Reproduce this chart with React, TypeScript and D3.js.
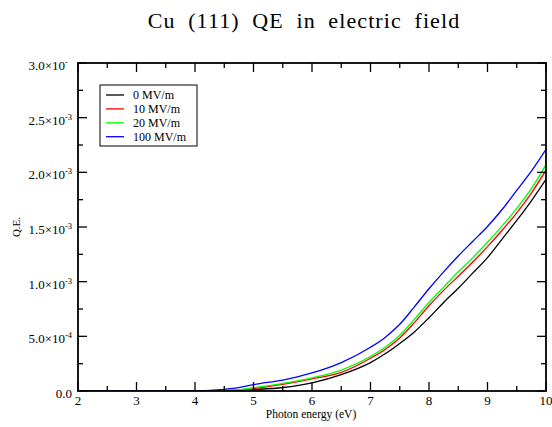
import React from "react";
import * as d3 from "d3";

// Photon energy grid (eV)
const energy = [2, 3, 4, 4.25, 4.5, 4.75, 5, 5.5, 6, 6.5, 7, 7.25, 7.5, 7.75, 8, 8.25, 8.5, 8.75, 9, 9.25, 9.5, 9.75, 10];

// Quantum efficiency in units of 1e-3, one array per applied field
const qe0 = [0, 0, 0, 0, 0, 0.004, 0.012, 0.032, 0.075, 0.15, 0.26, 0.34, 0.435, 0.54, 0.67, 0.81, 0.94, 1.08, 1.22, 1.39, 1.56, 1.74, 1.936];
const qe10 = [0, 0, 0, 0, 0.003, 0.01, 0.022, 0.06, 0.11, 0.17, 0.3, 0.38, 0.485, 0.625, 0.78, 0.92, 1.05, 1.18, 1.32, 1.47, 1.63, 1.81, 2.02];
const qe20 = [0, 0, 0, 0, 0.004, 0.012, 0.03, 0.07, 0.12, 0.19, 0.315, 0.4, 0.51, 0.655, 0.81, 0.95, 1.09, 1.22, 1.36, 1.51, 1.67, 1.85, 2.07];
const qe100 = [0, 0, 0, 0.005, 0.015, 0.03, 0.058, 0.1, 0.165, 0.26, 0.4, 0.49, 0.61, 0.77, 0.935, 1.09, 1.235, 1.37, 1.505, 1.66, 1.835, 2.01, 2.21];

const seriesNames = ["0 MV/m", "10 MV/m", "20 MV/m", "100 MV/m"];
const seriesColors = ["#000000", "#ff0000", "#00ff00", "#0000ff"];
const seriesValues = [qe0, qe10, qe20, qe100];

// Axis ticks
const xTicks = [2, 3, 4, 5, 6, 7, 8, 9, 10];
const xMinorTicks = [2.5, 3.5, 4.5, 5.5, 6.5, 7.5, 8.5, 9.5];
const yTicks = [0, 0.5, 1.0, 1.5, 2.0, 2.5, 3.0];
const yMinorTicks = [0.25, 0.75, 1.25, 1.75, 2.25, 2.75];
const yTickMantissa = ["0.0", "5.0×10", "1.0×10", "1.5×10", "2.0×10", "2.5×10", "3.0×10"];
const yTickExponent = ["", "-4", "-3", "-3", "-3", "-3", "-"];

const W = 552;
const H = 427;
const left = 78;
const right = 546;
const top = 63;
const bottom = 391;

const SERIF = "Liberation Serif";

export default function App() {
  const x = d3.scaleLinear().domain([2, 10]).range([left, right]);
  const y = d3.scaleLinear().domain([0, 3.0]).range([bottom, top]);

  const line = d3
    .line<number>()
    .x((_, i) => x(energy[i]))
    .y((d) => y(d))
    .curve(d3.curveMonotoneX);

  const majorLen = 9;
  const minorLen = 5;
  const txt = { fontFamily: SERIF };

  return (
    <svg width={W} height={H} style={{ position: "absolute", left: 0, top: 0 }}>
      <rect width={W} height={H} fill="#ffffff" />

      <text
        x={304}
        y={28}
        fontSize={22}
        textAnchor="middle"
        style={{ ...txt, wordSpacing: "6px", letterSpacing: "1.1px" }}
        fill="#000"
      >
        Cu (111) QE in electric field
      </text>

      <defs>
        <clipPath id="plotArea">
          <rect x={left} y={top} width={right - left} height={bottom - top} />
        </clipPath>
      </defs>

      {/* curves */}
      <g clipPath="url(#plotArea)">
        {seriesValues.map((vals, k) => (
          <path key={k} d={line(vals) || ""} fill="none" stroke={seriesColors[k]} strokeWidth={1.3} />
        ))}
      </g>

      {/* ticks on all four sides, pointing inward */}
      <g stroke="#000" strokeWidth={1.3}>
        {xTicks.map((t) => (
          <g key={"xt" + t}>
            <line x1={x(t)} x2={x(t)} y1={bottom} y2={bottom - majorLen} />
            <line x1={x(t)} x2={x(t)} y1={top} y2={top + majorLen} />
          </g>
        ))}
        {xMinorTicks.map((t) => (
          <g key={"xm" + t}>
            <line x1={x(t)} x2={x(t)} y1={bottom} y2={bottom - minorLen} />
            <line x1={x(t)} x2={x(t)} y1={top} y2={top + minorLen} />
          </g>
        ))}
        {yTicks.map((t) => (
          <g key={"yt" + t}>
            <line x1={left} x2={left + majorLen} y1={y(t)} y2={y(t)} />
            <line x1={right} x2={right - majorLen} y1={y(t)} y2={y(t)} />
          </g>
        ))}
        {yMinorTicks.map((t) => (
          <g key={"ym" + t}>
            <line x1={left} x2={left + minorLen} y1={y(t)} y2={y(t)} />
            <line x1={right} x2={right - minorLen} y1={y(t)} y2={y(t)} />
          </g>
        ))}
      </g>

      {/* frame */}
      <rect x={left} y={top} width={right - left} height={bottom - top} fill="none" stroke="#000" strokeWidth={1.8} />

      {/* x tick labels */}
      <g fontSize={13} textAnchor="middle" fill="#000" style={txt}>
        {xTicks.map((t) => (
          <text key={"xl" + t} x={x(t)} y={bottom + 13.5} style={txt}>
            {t}
          </text>
        ))}
      </g>

      {/* y tick labels */}
      <g fill="#000">
        {yTicks.map((t, i) =>
          yTickExponent[i] === "" ? (
            <text key={"yl" + t} x={72} y={y(t) + 6.5} fontSize={13} textAnchor="end" style={txt}>
              {yTickMantissa[i]}
            </text>
          ) : (
            <g key={"yl" + t}>
              <text x={65} y={y(t) + 7} fontSize={13} textAnchor="end" style={txt}>
                {yTickMantissa[i]}
              </text>
              <text x={65} y={y(t) + 2} fontSize={8.5} textAnchor="start" style={txt}>
                {yTickExponent[i]}
              </text>
            </g>
          )
        )}
      </g>

      {/* axis titles */}
      <text x={311} y={418} fontSize={11.5} textAnchor="middle" fill="#000" style={txt}>
        Photon energy (eV)
      </text>
      <text transform={`translate(20, ${(top + bottom) / 2}) rotate(-90)`} fontSize={11} textAnchor="middle" fill="#000" style={txt}>
        Q.E.
      </text>

      {/* legend */}
      <g>
        <rect x={100} y={85} width={97} height={61} fill="#fff" stroke="#000" strokeWidth={1} />
        {seriesNames.map((name, k) => {
          const ry = 95 + k * 13.9;
          return (
            <g key={name}>
              <line x1={106} x2={124} y1={ry} y2={ry} stroke={seriesColors[k]} strokeWidth={1.3} />
              <text x={133} y={ry + 4} fontSize={12} fill="#000" style={txt}>
                {name}
              </text>
            </g>
          );
        })}
      </g>
    </svg>
  );
}
